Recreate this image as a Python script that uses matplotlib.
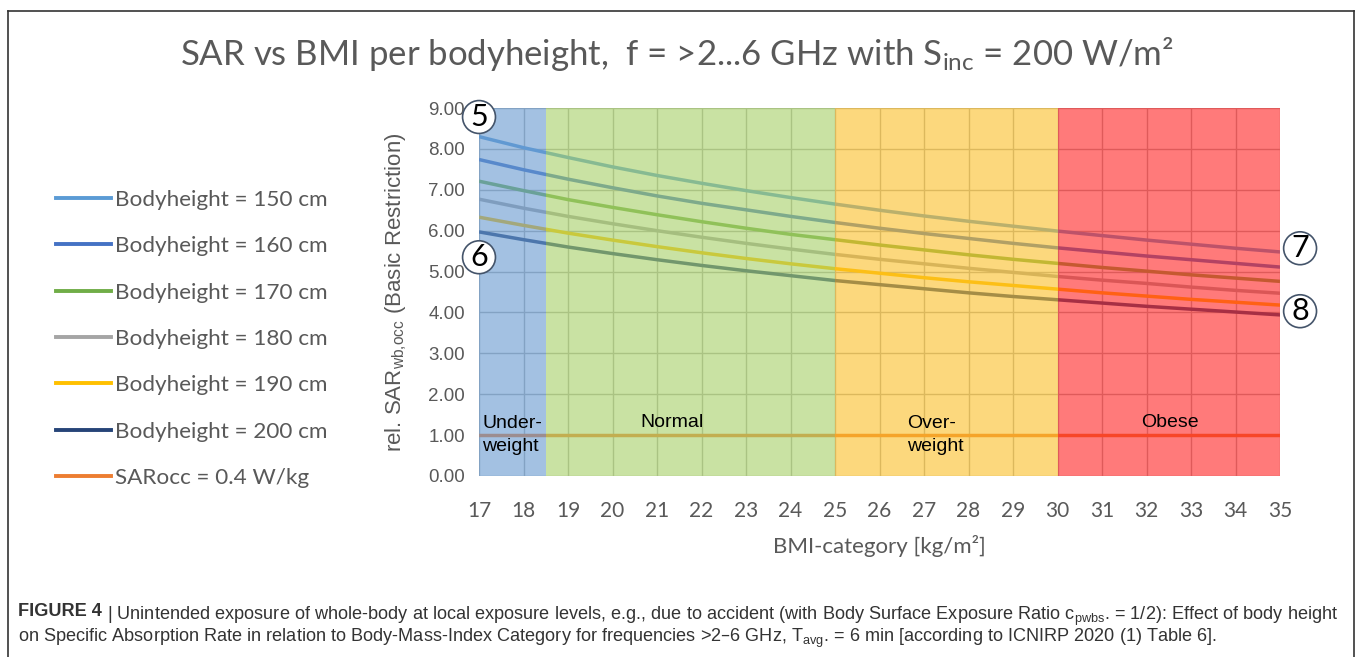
import matplotlib
matplotlib.use("Agg")
import matplotlib.pyplot as plt
from matplotlib.lines import Line2D

plt.rcParams['mathtext.default'] = 'regular'

# data
bmi = [17, 18, 19, 20, 21, 22, 23, 24, 25, 26, 27, 28, 29, 30, 31, 32, 33, 34, 35]
sar_150 = [8.30, 8.03, 7.79, 7.56, 7.35, 7.16, 6.98, 6.81, 6.65, 6.50, 6.36, 6.23, 6.11, 5.99, 5.88, 5.77, 5.67, 5.57, 5.48]
sar_160 = [7.74, 7.49, 7.26, 7.05, 6.85, 6.67, 6.51, 6.35, 6.20, 6.06, 5.93, 5.81, 5.69, 5.58, 5.48, 5.38, 5.29, 5.20, 5.11]
sar_170 = [7.21, 6.98, 6.76, 6.57, 6.39, 6.22, 6.06, 5.91, 5.78, 5.65, 5.53, 5.41, 5.30, 5.20, 5.10, 5.01, 4.92, 4.84, 4.76]
sar_180 = [6.77, 6.55, 6.35, 6.17, 6.00, 5.84, 5.69, 5.55, 5.42, 5.30, 5.19, 5.08, 4.98, 4.88, 4.79, 4.71, 4.62, 4.54, 4.47]
sar_190 = [6.33, 6.13, 5.94, 5.77, 5.61, 5.46, 5.32, 5.19, 5.07, 4.96, 4.85, 4.75, 4.66, 4.57, 4.48, 4.40, 4.32, 4.25, 4.18]
sar_200 = [5.97, 5.78, 5.60, 5.44, 5.29, 5.15, 5.02, 4.90, 4.78, 4.68, 4.58, 4.48, 4.39, 4.31, 4.23, 4.15, 4.08, 4.01, 3.94]
sar_occ = 1.0
series = [sar_150, sar_160, sar_170, sar_180, sar_190, sar_200]
labels = ['Bodyheight = 150 cm', 'Bodyheight = 160 cm', 'Bodyheight = 170 cm',
          'Bodyheight = 180 cm', 'Bodyheight = 190 cm', 'Bodyheight = 200 cm']
occ_label = 'SARocc = 0.4 W/kg'

# BMI categories
cat_edges = [17, 18.5, 25, 30, 35]
cat_names = ['Under-\nweight', 'Normal', 'Over-\nweight', 'Obese']

line_colors = ['#5b9bd5', '#4472c4', '#70ad47', '#a5a5a5', '#ffc000', '#264478']
occ_color = '#ed7d31'
# band colours pre-compensated for alpha so they look right on white
band_colors = ['#6699d0', '#a6d066', '#fbbf26', '#ff2222']
band_alpha = 0.6

fig = plt.figure(figsize=(13.57, 6.57), dpi=100)
ax = fig.add_axes([0.353, 0.2755, 0.5903, 0.5601])

for vals, c in zip(series, line_colors):
    ax.plot(bmi, vals, color=c, lw=2.5, zorder=3, solid_capstyle='butt')
ax.plot([bmi[0], bmi[-1]], [sar_occ, sar_occ], color=occ_color, lw=2.5, zorder=3)

for i in range(len(cat_names)):
    ax.axvspan(cat_edges[i], cat_edges[i + 1], color=band_colors[i], alpha=band_alpha,
               lw=0, zorder=4)

ax.set_xlim(17, 35)
ax.set_ylim(0, 9)
ax.set_xticks(bmi)
ax.set_yticks(range(10))
ax.set_yticklabels(['%.2f' % v for v in range(10)])
ax.grid(True, color='#b0b0b0', lw=1.0, zorder=1)
ax.set_axisbelow(True)
for s in ax.spines.values():
    s.set_visible(False)
ax.tick_params(length=0)
ax.tick_params(axis='x', pad=18, labelsize=15, labelcolor='#595959')
ax.tick_params(axis='y', pad=10, labelsize=13.5, labelcolor='#595959')
for t in ax.get_xticklabels():
    t.set_family('Lato')
for t in ax.get_yticklabels():
    t.set_family('Liberation Sans')

ax.set_xlabel('BMI-category [kg/m²]', family='Lato', fontsize=16, color='#595959', labelpad=10)
ax.set_ylabel('rel. SAR$_{wb{,}occ}$ (Basic Restriction)', family='Liberation Sans',
              fontsize=16, color='#595959', labelpad=14)

# category labels
cat_font = dict(family=['Liberation Sans Narrow', 'Liberation Sans'], fontsize=14, color='black', zorder=6)
ax.text(17.07, 1.0, cat_names[0], ha='left', va='center', linespacing=1.5, **cat_font)
ax.text(21.34, 1.3, cat_names[1], ha='center', va='center', **cat_font)
ax.text(26.62, 1.0, cat_names[2], ha='left', va='center', linespacing=1.5, **cat_font)
ax.text(32.53, 1.3, cat_names[3], ha='center', va='center', **cat_font)

# circled markers
circ = dict(boxstyle='circle,pad=0.08', fc='white', ec='#44546a', lw=1.2)
for num, xx, yy in [('5', 17.0, 8.78), ('6', 17.0, 5.35), ('7', 35.45, 5.57), ('8', 35.45, 4.03)]:
    ax.text(xx, yy, num, ha='center', va='center', fontsize=22, family='Lato', color='black',
            bbox=circ, zorder=7, clip_on=False)

# legend
handles = [Line2D([], [], color=c, lw=2.8) for c in line_colors]
handles.append(Line2D([], [], color=occ_color, lw=2.8))
fig.legend(handles, labels + [occ_label], loc='center left', bbox_to_anchor=(0.041, 0.484),
           frameon=False, prop=dict(family='Lato', size=16.2), labelcolor='#595959',
           handlelength=2.45, handletextpad=0.2, labelspacing=1.17, borderpad=0, borderaxespad=0)

# title
fig.text(0.4985, 0.918, 'SAR vs BMI per bodyheight,  f = >2...6 GHz with S$_{inc}$ = 200 W/m²',
         ha='center', va='center', family='Lato', fontsize=25, color='#595959')

# caption
cap_font = dict(family='Liberation Sans', fontsize=13.1, color='#333333')
t1 = fig.text(0.0135, 1 - 616 / 657, 'FIGURE 4', weight='bold', va='baseline', **cap_font)
ax.annotate(' | Unintended exposure of whole-body at local exposure levels, e.g., due to accident '
            '(with Body Surface Exposure Ratio c$_{pwbs}$. = 1/2): Effect of body height',
            xy=(1, 0), xycoords=t1, va='baseline', ha='left', annotation_clip=False, **cap_font)
fig.text(0.0135, 1 - 642 / 657,
         'on Specific Absorption Rate in relation to Body-Mass-Index Category for frequencies >2–6 GHz, '
         'T$_{avg}$. = 6 min [according to ICNIRP 2020 (1) Table 6].',
         va='baseline', **cap_font)

# outer frame
frame_kw = dict(color='#333333', lw=1.2, transform=fig.transFigure)
fig.add_artist(Line2D([8 / 1357, 8 / 1357], [0, 1 - 11 / 657], **frame_kw))
fig.add_artist(Line2D([8 / 1357, 1354 / 1357], [1 - 11 / 657, 1 - 11 / 657], **frame_kw))
fig.add_artist(Line2D([1354 / 1357, 1354 / 1357], [0, 1 - 11 / 657], **frame_kw))

fig.savefig('out.png', dpi=100)
